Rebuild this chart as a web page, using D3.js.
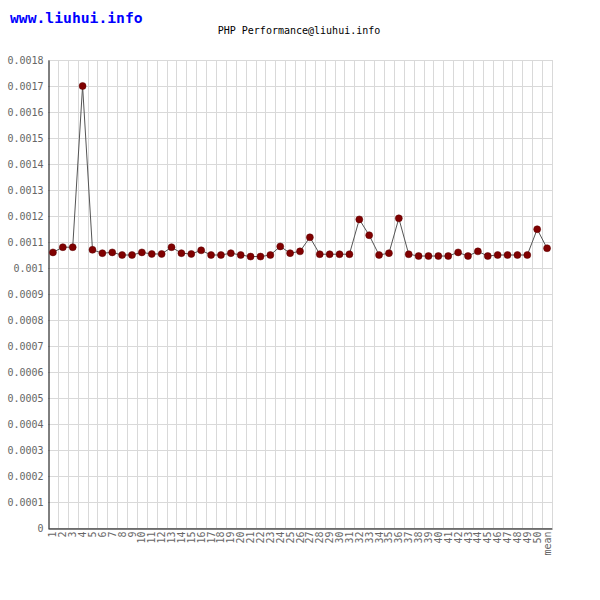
<!DOCTYPE html>
<html>
<head>
<meta charset="utf-8">
<script src="https://cdn.jsdelivr.net/npm/d3@7"></script>
<style>
  body { margin: 0; background: #fff; }
  svg { display: block; }
</style>
</head>
<body>
<svg id="chart"></svg>
<script>
// run labels, 1..50 plus the mean
var categories = []
for (var i = 1; i <= 50; i++) categories.push(String(i))
categories.push("mean")

// seconds per run
var times = [
  0.00106, 0.00108, 0.00108, 0.00170, 0.00107, 0.001057, 0.00106, 0.00105, 0.00105, 0.00106,
  0.001054, 0.001054, 0.00108, 0.001057, 0.001054, 0.001068, 0.00105, 0.00105, 0.001057, 0.00105,
  0.001044, 0.001044, 0.00105, 0.001083, 0.001057, 0.001064, 0.001118, 0.001053, 0.001053, 0.001053,
  0.001053, 0.001187, 0.001126, 0.00105, 0.001057, 0.001191, 0.001053, 0.001046, 0.001046, 0.001046,
  0.001046, 0.00106, 0.001046, 0.001064, 0.001046, 0.00105, 0.00105, 0.00105, 0.00105, 0.001149,
  0.001076
]

var yTicks = d3.range(0, 19).map(function(d) { return d / 10000 })

var W = 600, H = 600
var plotLeft = 48, plotRight = 552, plotTop = 60, plotBottom = 528
var mono = "'DejaVu Sans Mono', 'Liberation Mono', monospace"

var svg = d3.select("#chart").attr("width", W).attr("height", H)

var x = d3.scaleBand().domain(categories).range([plotLeft, plotRight])
var y = d3.scaleLinear().domain([0, 0.0018]).range([plotBottom, plotTop])

// grid
svg.append("g")
  .selectAll("line")
  .data(yTicks)
  .enter().append("line")
  .attr("x1", plotLeft).attr("x2", plotRight)
  .attr("y1", function(d) { return Math.round(y(d)) + 0.5 })
  .attr("y2", function(d) { return Math.round(y(d)) + 0.5 })
  .attr("stroke", "#d9d9d9")

svg.append("g")
  .selectAll("line")
  .data(categories)
  .enter().append("line")
  .attr("x1", function(d) { return Math.round(x(d) + x.bandwidth()) + 0.5 })
  .attr("x2", function(d) { return Math.round(x(d) + x.bandwidth()) + 0.5 })
  .attr("y1", plotTop).attr("y2", plotBottom)
  .attr("stroke", "#d9d9d9")

// axes
var yAxis = svg.append("g")
  .attr("transform", "translate(" + (plotLeft + 0.5) + ",0)")
  .call(d3.axisLeft(y).tickValues(yTicks).tickSize(0).tickPadding(5)
    .tickFormat(function(d) { return d === 0 ? "0" : d3.format(".4~f")(d) }))
yAxis.select(".domain").attr("stroke", "#000")
yAxis.selectAll("text")
  .attr("fill", "#666")
  .style("font-family", mono)
  .style("font-size", "10px")

var xAxis = svg.append("g")
  .attr("transform", "translate(0," + (plotBottom + 0.5) + ")")
  .call(d3.axisBottom(x).tickSize(0).tickPadding(0))
xAxis.select(".domain").attr("stroke", "#000")
xAxis.selectAll("text")
  .attr("fill", "#666")
  .attr("text-anchor", "end")
  .attr("transform", "translate(0,3) rotate(-90)")
  .attr("dx", 0).attr("dy", "0.35em").attr("y", 0)
  .style("font-family", mono)
  .style("font-size", "10px")

// line and points
var cx = function(d, i) { return x(categories[i]) + x.bandwidth() / 2 }

svg.append("path")
  .datum(times)
  .attr("fill", "none")
  .attr("stroke", "#555")
  .attr("stroke-width", 1)
  .attr("d", d3.line().x(cx).y(function(d) { return y(d) }))

svg.append("g")
  .selectAll("circle")
  .data(times)
  .enter().append("circle")
  .attr("cx", cx)
  .attr("cy", function(d) { return y(d) })
  .attr("r", 3.5)
  .attr("fill", "#800000")
  .attr("stroke", "#5a0000")
  .attr("stroke-width", 0.5)

// titles
svg.append("text")
  .attr("x", 10).attr("y", 23)
  .attr("fill", "#0000ff")
  .style("font-family", mono)
  .style("font-size", "14.7px")
  .style("font-weight", "bold")
  .text("www.liuhui.info")

svg.append("text")
  .attr("x", 299).attr("y", 34)
  .attr("text-anchor", "middle")
  .attr("fill", "#000")
  .style("font-family", mono)
  .style("font-size", "10px")
  .text("PHP Performance@liuhui.info")
</script>
</body>
</html>
